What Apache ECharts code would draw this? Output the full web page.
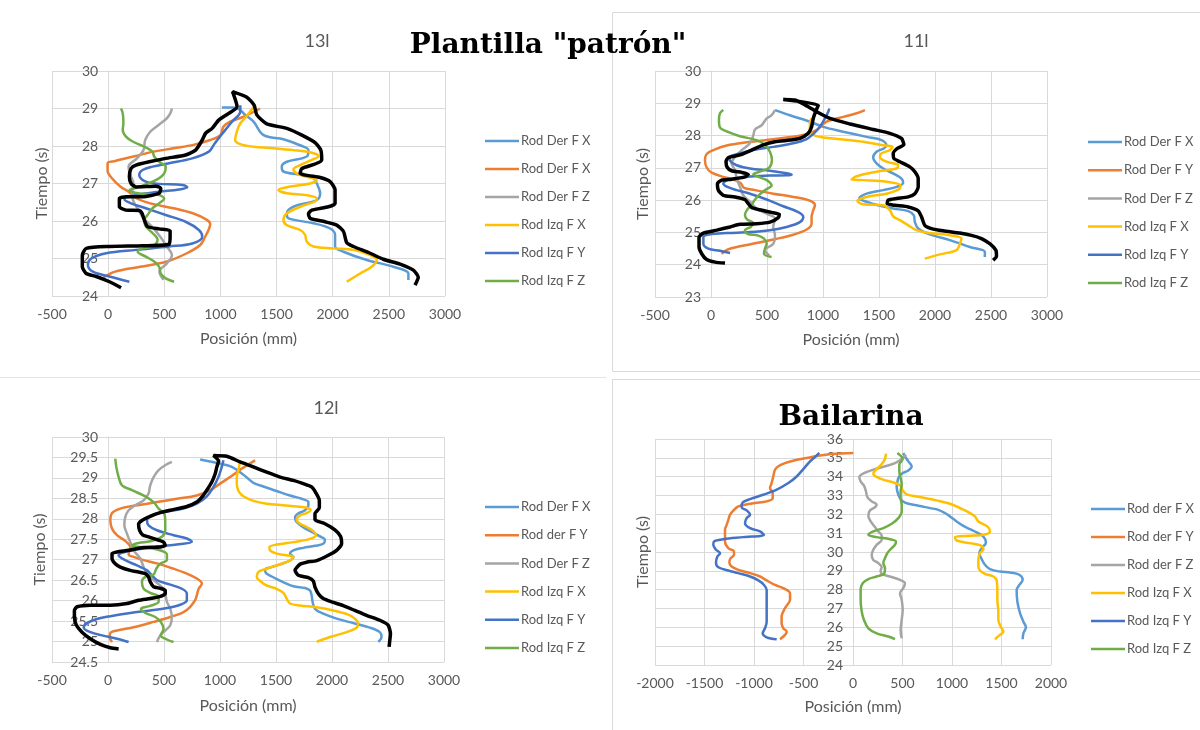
<!DOCTYPE html>
<html>
<head>
<meta charset="utf-8">
<script src="https://cdn.jsdelivr.net/npm/echarts@6/dist/echarts.min.js"></script>
<style>
  html, body { margin: 0; padding: 0; background: #ffffff; }
  #chart { width: 1200px; height: 730px; }
</style>
</head>
<body>
<div id="chart"></div>
<script>
// ---------- Series colours (legend order) ----------
const seriesColors = ['#5B9BD5', '#ED7D31', '#A5A5A5', '#FFC000', '#4472C4', '#70AD47'];

// ---------- Legend labels per panel ----------
const legend13 = ['Rod Der F X', 'Rod Der F X', 'Rod Der F Z', 'Rod Izq F X', 'Rod Izq F Y', 'Rod Izq F Z'];
const legend11 = ['Rod Der F X', 'Rod Der F Y', 'Rod Der F Z', 'Rod Izq F X', 'Rod Izq F Y', 'Rod Izq F Z'];
const legend12 = ['Rod Der F X', 'Rod der F Y', 'Rod Der F Z', 'Rod Izq F X', 'Rod Izq F Y', 'Rod Izq F Z'];
const legendBa = ['Rod der F X', 'Rod der F Y', 'Rod der F Z', 'Rod Izq F X', 'Rod Izq F Y', 'Rod Izq F Z'];

// ---------- Panel titles ----------
const panelTitles = ['13l', '11l', '12l', ''];

// ---------- Panel 13l : [posición mm, tiempo s] ----------
const p13DerX = [[2674,24.43],[2674,24.60],[2540,24.78],[2303,24.96],[2096,25.18],[2021,25.32],[2021,25.63],[1977,25.80],[1829,25.94],[1606,26.07],[1591,26.20],[1650,26.38],[1858,26.56],[1888,26.74],[1858,27.00],[1828,27.14],[1710,27.23],[1561,27.32],[1546,27.45],[1591,27.58],[1769,27.72],[1784,27.89],[1725,28.00],[1561,28.18],[1384,28.29],[1295,28.65],[1221,28.83],[1176,28.96],[1117,29.03],[1013,29.03]];
const p13DerY = [[-40,24.50],[63,24.65],[286,24.78],[523,24.92],[701,25.14],[820,25.36],[864,25.58],[894,25.76],[909,25.92],[879,26.03],[760,26.20],[583,26.34],[375,26.47],[256,26.60],[182,26.78],[108,26.92],[34,27.14],[-5,27.34],[-5,27.54],[63,27.60],[226,27.72],[405,27.85],[583,27.94],[760,28.03],[909,28.16],[998,28.29],[1028,28.52],[1087,28.65],[1206,28.78],[1353,29.00]];
const p13DerZ = [[493,24.43],[457,24.65],[523,24.87],[568,25.09],[523,25.32],[464,25.58],[390,25.85],[315,26.07],[271,26.29],[226,26.52],[212,26.74],[226,27.00],[197,27.23],[182,27.45],[256,27.67],[315,27.89],[330,28.16],[375,28.38],[449,28.56],[523,28.74],[553,28.87],[568,29.00]];
const p13IzqX = [[2125,24.38],[2244,24.60],[2347,24.78],[2392,24.96],[2333,25.09],[2184,25.23],[2006,25.27],[1828,25.32],[1769,25.45],[1754,25.63],[1710,25.76],[1591,25.89],[1561,26.03],[1591,26.20],[1710,26.38],[1843,26.52],[1858,26.60],[1769,26.69],[1591,26.74],[1517,26.83],[1621,26.92],[1799,27.00],[1858,27.09],[1769,27.18],[1680,27.27],[1650,27.38],[1710,27.49],[1814,27.63],[1873,27.73],[1814,27.82],[1650,27.89],[1473,27.94],[1295,27.98],[1176,28.05],[1131,28.16],[1146,28.38],[1176,28.60],[1229,28.78],[1265,28.92],[1295,29.03]];
const p13IzqY = [[189,24.38],[12,24.52],[-136,24.65],[-180,24.83],[-150,25.00],[-18,25.14],[248,25.23],[543,25.32],[749,25.40],[838,25.58],[808,25.76],[690,25.98],[513,26.16],[336,26.34],[204,26.47],[145,26.58],[248,26.69],[454,26.78],[631,26.84],[705,26.90],[661,26.96],[454,26.99],[336,27.05],[277,27.23],[307,27.36],[395,27.45],[543,27.54],[749,27.67],[897,27.85],[941,28.03],[985,28.21],[1044,28.43],[1103,28.65],[1177,28.92],[1177,29.09]];
const p13IzqZ = [[587,24.38],[513,24.47],[469,24.60],[454,24.78],[410,24.92],[336,25.05],[263,25.18],[307,25.27],[395,25.32],[440,25.50],[395,25.68],[336,25.85],[322,26.03],[351,26.16],[395,26.34],[454,26.47],[499,26.60],[454,26.69],[263,26.74],[189,26.82],[277,26.91],[395,27.05],[454,27.14],[499,27.27],[513,27.45],[454,27.58],[410,27.72],[395,27.85],[322,27.98],[218,28.12],[159,28.25],[130,28.43],[136,28.61],[130,28.87],[115,29.00]];
const p13Trace = [[115,24.22],[12,24.38],[-106,24.52],[-195,24.60],[-230,24.78],[-230,25.09],[-195,25.27],[12,25.32],[307,25.34],[543,25.38],[552,25.58],[552,25.74],[454,25.79],[351,25.85],[322,26.03],[301,26.21],[277,26.28],[159,26.29],[100,26.38],[100,26.60],[159,26.65],[307,26.65],[454,26.74],[469,26.87],[425,26.93],[248,26.91],[204,27.00],[189,27.18],[204,27.40],[248,27.49],[366,27.58],[513,27.67],[690,27.76],[779,27.89],[838,28.16],[868,28.34],[926,28.47],[985,28.69],[1074,28.87],[1148,29.05],[1108,29.45],[1235,29.30],[1300,29.09],[1324,28.83],[1413,28.59],[1591,28.47],[1725,28.29],[1843,28.09],[1894,27.89],[1902,27.63],[1843,27.52],[1725,27.40],[1710,27.27],[1784,27.21],[1888,27.16],[1977,27.05],[2021,26.83],[2021,26.47],[1962,26.38],[1814,26.29],[1784,26.19],[1799,26.07],[1932,25.98],[2036,25.89],[2096,25.72],[2125,25.42],[2184,25.32],[2333,25.14],[2451,24.98],[2600,24.85],[2718,24.69],[2762,24.50],[2733,24.29]];

// ---------- Panel 11l ----------
const p11DerX = [[2445,24.24],[2445,24.40],[2311,24.55],[2132,24.76],[1954,24.94],[1850,25.12],[1820,25.33],[1811,25.53],[1761,25.66],[1627,25.74],[1493,25.84],[1389,25.95],[1323,26.05],[1389,26.20],[1538,26.31],[1657,26.41],[1716,26.54],[1701,26.67],[1642,26.80],[1538,26.98],[1478,27.14],[1448,27.32],[1478,27.50],[1543,27.60],[1567,27.70],[1523,27.86],[1389,27.96],[1181,28.12],[1002,28.27],[883,28.43],[705,28.63],[571,28.79]];
const p11DerY = [[95,24.34],[146,24.47],[259,24.57],[407,24.67],[556,24.78],[735,24.93],[854,25.09],[898,25.27],[898,25.48],[913,25.69],[928,25.84],[883,25.98],[735,26.10],[556,26.20],[393,26.31],[291,26.39],[268,26.52],[202,26.64],[110,26.72],[6,26.85],[-39,27.01],[-54,27.24],[-39,27.43],[21,27.55],[140,27.69],[318,27.79],[497,27.86],[675,27.94],[824,28.02],[943,28.17],[1032,28.43],[1181,28.58],[1300,28.69],[1374,28.79]];
const p11DerZ = [[520,24.29],[482,24.45],[556,24.65],[571,24.91],[556,25.17],[571,25.43],[497,25.58],[407,25.74],[348,25.95],[288,26.15],[259,26.41],[229,26.67],[214,26.93],[184,27.14],[214,27.34],[274,27.55],[348,27.76],[378,28.01],[393,28.19],[452,28.32],[497,28.53],[541,28.63],[571,28.79]];
const p11IzqX = [[1909,24.19],[2043,24.32],[2192,24.45],[2222,24.65],[2236,24.81],[2132,24.91],[1954,24.98],[1835,25.07],[1761,25.22],[1686,25.38],[1627,25.50],[1597,25.69],[1538,25.84],[1359,25.87],[1306,25.98],[1389,26.10],[1567,26.20],[1686,26.36],[1692,26.46],[1567,26.57],[1359,26.62],[1255,26.64],[1300,26.74],[1478,26.88],[1657,26.98],[1671,27.08],[1567,27.19],[1508,27.34],[1523,27.45],[1597,27.55],[1621,27.65],[1538,27.70],[1359,27.81],[1181,27.88],[1002,27.94],[919,28.01],[883,28.17],[883,28.38],[898,28.53]];
const p11IzqY = [[170,24.36],[80,24.43],[-24,24.50],[-68,24.65],[-68,24.86],[-9,24.94],[140,24.98],[348,25.01],[526,25.07],[675,25.17],[794,25.32],[824,25.48],[779,25.63],[645,25.81],[497,26.02],[348,26.20],[229,26.31],[146,26.41],[110,26.51],[146,26.62],[318,26.72],[526,26.76],[675,26.77],[720,26.79],[675,26.83],[526,26.91],[348,26.98],[229,27.08],[170,27.22],[164,27.34],[229,27.42],[378,27.55],[556,27.65],[735,27.76],[854,27.89],[919,28.07],[972,28.27],[1017,28.53],[1047,28.74],[1056,28.84]];
const p11IzqZ = [[541,24.24],[473,24.34],[482,24.50],[497,24.65],[473,24.81],[422,24.90],[324,24.96],[303,25.07],[354,25.17],[378,25.29],[324,25.40],[303,25.55],[324,25.71],[363,25.86],[393,26.02],[443,26.20],[491,26.33],[541,26.45],[497,26.62],[422,26.72],[378,26.80],[443,26.89],[520,27.01],[544,27.24],[526,27.50],[482,27.71],[407,27.86],[259,27.98],[146,28.12],[80,28.25],[71,28.48],[80,28.69],[110,28.79]];
const p11Trace = [[125,24.05],[36,24.08],[-39,24.16],[-83,24.34],[-107,24.55],[-107,24.84],[-68,24.98],[51,25.07],[170,25.17],[259,25.25],[407,25.27],[526,25.32],[601,25.46],[610,25.56],[541,25.62],[422,25.71],[363,25.77],[333,25.89],[303,26.02],[214,26.10],[110,26.15],[65,26.31],[57,26.51],[95,26.62],[184,26.65],[303,26.72],[333,26.80],[274,26.86],[184,26.91],[146,27.01],[134,27.19],[155,27.32],[259,27.40],[363,27.55],[467,27.71],[571,27.81],[705,27.86],[794,27.91],[868,28.07],[898,28.27],[913,28.53],[937,28.77],[958,28.94],[645,29.12],[749,29.10],[824,28.98],[943,28.74],[1062,28.53],[1240,28.36],[1448,28.19],[1597,28.07],[1701,27.91],[1722,27.72],[1662,27.60],[1627,27.45],[1633,27.29],[1686,27.19],[1775,27.03],[1820,26.88],[1850,26.67],[1850,26.41],[1820,26.20],[1761,26.10],[1657,26.05],[1582,26.00],[1573,25.89],[1642,25.84],[1761,25.79],[1850,25.67],[1880,25.48],[1909,25.22],[1969,25.12],[2073,25.05],[2222,24.98],[2326,24.91],[2415,24.81],[2489,24.65],[2543,24.45],[2549,24.26],[2519,24.14]];

// ---------- Panel 12l ----------
const p12DerX = [[2413,24.99],[2442,25.11],[2427,25.23],[2338,25.34],[2190,25.45],[2041,25.56],[1922,25.68],[1848,25.80],[1827,25.97],[1818,26.13],[1803,26.25],[1759,26.31],[1655,26.35],[1581,26.43],[1521,26.51],[1462,26.59],[1411,26.67],[1402,26.76],[1462,26.82],[1551,26.90],[1625,26.98],[1655,27.07],[1625,27.15],[1655,27.23],[1744,27.29],[1848,27.34],[1922,27.39],[1937,27.49],[1893,27.57],[1818,27.68],[1729,27.82],[1679,27.94],[1670,28.04],[1699,28.13],[1759,28.21],[1789,28.33],[1789,28.41],[1729,28.49],[1625,28.57],[1506,28.68],[1387,28.79],[1298,28.88],[1239,29.01],[1180,29.14],[1105,29.27],[1001,29.35],[912,29.40],[823,29.45]];
const p12DerY = [[36,24.99],[15,25.11],[21,25.21],[80,25.27],[229,25.35],[407,25.48],[556,25.60],[674,25.72],[734,25.85],[778,26.01],[793,26.13],[808,26.28],[838,26.42],[793,26.54],[704,26.66],[585,26.78],[437,26.91],[318,26.99],[229,27.07],[184,27.13],[199,27.30],[154,27.46],[80,27.60],[36,27.76],[21,27.96],[36,28.14],[110,28.25],[258,28.33],[437,28.41],[615,28.49],[793,28.57],[912,28.70],[1001,28.86],[1090,29.02],[1179,29.20],[1313,29.43]];
const p12DerZ = [[437,24.99],[466,25.15],[511,25.27],[556,25.40],[570,25.60],[556,25.80],[526,25.97],[511,26.17],[481,26.33],[407,26.50],[348,26.66],[318,26.82],[288,27.03],[229,27.23],[199,27.43],[169,27.64],[146,27.84],[154,28.04],[184,28.21],[244,28.33],[318,28.45],[362,28.62],[377,28.82],[407,29.02],[452,29.19],[511,29.31],[570,29.39]];
const p12IzqX = [[1863,24.99],[1982,25.11],[2130,25.23],[2219,25.34],[2234,25.45],[2204,25.56],[2145,25.66],[2011,25.76],[1863,25.84],[1714,25.88],[1625,25.93],[1595,26.05],[1566,26.19],[1506,26.29],[1417,26.37],[1358,26.48],[1328,26.58],[1343,26.70],[1417,26.78],[1536,26.89],[1625,26.98],[1655,27.07],[1595,27.11],[1506,27.15],[1447,27.23],[1441,27.31],[1506,27.37],[1655,27.43],[1803,27.51],[1857,27.60],[1833,27.70],[1774,27.80],[1714,27.88],[1685,27.98],[1714,28.08],[1774,28.14],[1809,28.21],[1774,28.27],[1685,28.30],[1566,28.33],[1417,28.37],[1298,28.44],[1209,28.55],[1165,28.68],[1150,28.86],[1150,29.02],[1165,29.20],[1180,29.43]];
const p12IzqY = [[184,24.99],[80,25.07],[-53,25.15],[-157,25.23],[-217,25.34],[-187,25.45],[-113,25.54],[21,25.62],[199,25.70],[377,25.76],[526,25.82],[645,25.90],[704,26.01],[704,26.17],[660,26.29],[556,26.39],[437,26.50],[392,26.62],[348,26.74],[258,26.86],[154,26.99],[95,27.11],[125,27.17],[214,27.23],[333,27.28],[467,27.33],[615,27.37],[749,27.44],[704,27.52],[585,27.60],[437,27.72],[362,27.84],[348,27.97],[392,28.09],[511,28.17],[674,28.25],[793,28.37],[882,28.55],[942,28.78],[986,29.02],[1016,29.27],[1031,29.43]];
const p12IzqZ = [[585,24.99],[526,25.05],[472,25.15],[496,25.31],[472,25.48],[422,25.60],[333,25.70],[294,25.80],[377,25.87],[452,25.97],[452,26.09],[377,26.19],[318,26.29],[303,26.46],[333,26.58],[407,26.64],[431,26.78],[466,26.90],[526,27.00],[526,27.13],[437,27.25],[288,27.31],[214,27.35],[273,27.41],[377,27.45],[481,27.56],[511,27.72],[511,27.92],[505,28.11],[452,28.25],[407,28.41],[333,28.55],[214,28.70],[125,28.82],[95,29.02],[74,29.27],[65,29.47]];
const p12Trace = [[95,24.82],[21,24.85],[-68,24.93],[-158,25.07],[-232,25.23],[-282,25.40],[-300,25.60],[-300,25.76],[-276,25.85],[-158,25.89],[21,25.89],[169,25.93],[273,26.01],[377,26.05],[452,26.09],[511,26.17],[511,26.25],[467,26.30],[407,26.34],[377,26.46],[362,26.58],[333,26.66],[273,26.70],[199,26.74],[110,26.82],[65,26.90],[36,27.03],[36,27.15],[80,27.19],[184,27.23],[318,27.30],[467,27.31],[511,27.35],[496,27.43],[437,27.49],[362,27.56],[312,27.60],[282,27.72],[273,27.87],[303,27.96],[377,28.06],[452,28.14],[556,28.21],[704,28.30],[793,28.41],[838,28.53],[882,28.70],[927,28.90],[957,29.10],[972,29.27],[987,29.41],[942,29.55],[1061,29.53],[1179,29.39],[1298,29.27],[1417,29.14],[1536,29.02],[1655,28.94],[1744,28.86],[1818,28.78],[1857,28.63],[1887,28.45],[1887,28.27],[1848,28.13],[1848,27.98],[1937,27.88],[2026,27.73],[2077,27.57],[2086,27.39],[2041,27.23],[1967,27.11],[1863,26.98],[1774,26.94],[1714,26.89],[1670,26.74],[1699,26.62],[1789,26.56],[1833,26.48],[1848,26.33],[1878,26.17],[1922,26.05],[1997,25.97],[2100,25.88],[2204,25.76],[2308,25.64],[2427,25.52],[2501,25.40],[2522,25.19],[2516,25.03],[2510,24.87]];

// ---------- Panel Bailarina ----------
const pBaDerX = [[1714,25.37],[1721,25.68],[1747,26.00],[1721,26.30],[1687,26.75],[1660,27.37],[1653,27.99],[1680,28.25],[1714,28.52],[1680,28.79],[1586,28.91],[1485,28.96],[1384,29.09],[1333,29.32],[1300,29.62],[1276,29.94],[1300,30.20],[1343,30.51],[1317,30.82],[1249,31.04],[1182,31.21],[1114,31.39],[1047,31.62],[980,31.89],[929,32.07],[862,32.24],[778,32.33],[660,32.46],[559,32.56],[502,32.69],[468,32.92],[448,33.22],[441,33.48],[448,33.70],[458,33.93],[492,34.16],[559,34.33],[593,34.55],[559,34.81],[525,35.08],[508,35.26]];
const pBaDerY = [[-737,25.37],[-687,25.60],[-670,25.77],[-704,25.95],[-721,26.22],[-721,26.57],[-704,26.84],[-677,27.10],[-636,27.46],[-636,27.81],[-704,28.08],[-788,28.25],[-872,28.49],[-939,28.70],[-1040,28.88],[-1158,29.05],[-1226,29.23],[-1249,29.44],[-1236,29.67],[-1202,29.85],[-1202,30.03],[-1259,30.20],[-1293,30.56],[-1293,30.91],[-1293,31.18],[-1276,31.44],[-1259,31.71],[-1242,31.98],[-1202,32.24],[-1158,32.42],[-1091,32.51],[-990,32.60],[-872,32.69],[-811,32.86],[-811,33.13],[-838,33.39],[-822,33.66],[-805,34.01],[-788,34.37],[-754,34.55],[-687,34.72],[-586,34.87],[-468,34.99],[-350,35.11],[-215,35.20],[3,35.26]];
const pBaDerZ = [[492,25.42],[481,25.86],[492,26.39],[502,26.93],[492,27.46],[475,27.81],[508,28.08],[525,28.34],[475,28.52],[374,28.70],[290,28.84],[279,29.02],[290,29.19],[256,29.41],[205,29.58],[189,29.85],[205,30.12],[239,30.38],[290,30.65],[290,30.86],[256,31.09],[212,31.39],[172,31.68],[155,31.92],[172,32.21],[222,32.38],[239,32.51],[189,32.69],[145,32.92],[131,33.22],[111,33.52],[77,33.75],[64,33.98],[111,34.19],[205,34.37],[323,34.55],[424,34.72],[492,34.94],[535,35.17]];
const pBaIzqX = [[1434,25.37],[1485,25.60],[1519,25.77],[1492,26.04],[1468,26.39],[1468,26.84],[1458,27.46],[1458,27.99],[1451,28.49],[1418,28.70],[1333,28.84],[1283,29.02],[1266,29.26],[1266,29.58],[1283,29.94],[1317,30.15],[1283,30.36],[1182,30.47],[1047,30.61],[1030,30.79],[1182,30.86],[1317,30.91],[1384,31.09],[1357,31.36],[1266,31.62],[1232,31.89],[1165,32.12],[1088,32.31],[980,32.56],[845,32.74],[677,32.92],[542,33.06],[502,33.27],[481,33.52],[407,33.70],[290,33.87],[205,34.16],[239,34.40],[290,34.67],[323,34.94],[333,35.22]];
const pBaIzqY = [[-771,25.37],[-872,25.47],[-912,25.68],[-889,25.95],[-872,26.30],[-872,26.75],[-872,27.19],[-872,27.63],[-872,27.99],[-899,28.25],[-956,28.49],[-1040,28.70],[-1158,28.88],[-1259,29.02],[-1360,29.19],[-1384,29.44],[-1370,29.76],[-1343,29.94],[-1384,30.12],[-1411,30.38],[-1404,30.56],[-1310,30.68],[-1108,30.79],[-899,30.91],[-939,31.09],[-1040,31.27],[-1091,31.53],[-1074,31.80],[-1040,31.98],[-1074,32.21],[-1125,32.38],[-1114,32.63],[-1040,32.81],[-906,33.04],[-771,33.31],[-653,33.66],[-569,34.01],[-502,34.40],[-434,34.81],[-384,35.04],[-340,35.26]];
const pBaIzqZ = [[424,25.37],[357,25.51],[239,25.68],[155,25.95],[111,26.39],[88,26.84],[77,27.46],[77,27.99],[98,28.34],[155,28.56],[239,28.70],[313,28.84],[323,29.14],[306,29.41],[323,29.67],[347,29.94],[374,30.12],[424,30.38],[434,30.56],[374,30.68],[239,30.79],[155,30.91],[205,31.09],[306,31.27],[391,31.50],[458,31.80],[492,32.15],[492,32.51],[481,32.86],[481,33.22],[492,33.57],[481,33.93],[468,34.28],[468,34.64],[502,34.94],[481,35.11],[448,35.26]];

// ---------- Layout of the four panels ----------
const panels = [
  { grid: { left: 52, top: 71, width: 393, height: 225 }, x: [-500, 3000, 500], y: [24, 30, 1],
    yNameGap: 58, xNameGap: 35, legend: [485, 141, 28], titlePos: [312, 27],
    names: legend13, lines: [p13DerX, p13DerY, p13DerZ, p13IzqX, p13IzqY, p13IzqZ], trace: p13Trace },
  { grid: { left: 655, top: 71, width: 392, height: 226 }, x: [-500, 3000, 500], y: [23, 30, 1],
    yNameGap: 60, xNameGap: 35, legend: [1088, 142, 28.2], titlePos: [911, 27],
    names: legend11, lines: [p11DerX, p11DerY, p11DerZ, p11IzqX, p11IzqY, p11IzqZ], trace: p11Trace },
  { grid: { left: 52, top: 437, width: 392, height: 225 }, x: [-500, 3000, 500], y: [24.5, 30, 0.5],
    yNameGap: 60, xNameGap: 36, legend: [485, 507, 28.2], titlePos: [321, 394],
    names: legend12, lines: [p12DerX, p12DerY, p12DerZ, p12IzqX, p12IzqY, p12IzqZ], trace: p12Trace },
  { grid: { left: 655, top: 439, width: 396, height: 226 }, x: [-2000, 2000, 500], y: [24, 36, 1],
    yNameGap: 202, xNameGap: 34, legend: [1091, 509, 28],
    names: legendBa, lines: [pBaDerX, pBaDerY, pBaDerZ, pBaIzqX, pBaIzqY, pBaIzqZ], trace: null }
];

const TEXT_GRAY = '#595959';
const GRID_GRAY = '#d9d9d9';
const FONT = 'Lato, "Open Sans", sans-serif';
const SERIF = '"DejaVu Serif", "Liberation Serif", serif';
const plainNumber = v => String(v);

const grids = [], xAxes = [], yAxes = [], series = [], graphics = [];
const titles = [
  { text: 'Plantilla "patrón"', left: 543, top: 27, textAlign: 'center',
    textStyle: { fontFamily: SERIF, fontWeight: 'bold', fontSize: 28, color: '#000' } },
  { text: 'Bailarina', left: 846, top: 399, textAlign: 'center',
    textStyle: { fontFamily: SERIF, fontWeight: 'bold', fontSize: 28, color: '#000' } }
];

panels.forEach((p, i) => {
  grids.push(Object.assign({ containLabel: false }, p.grid));
  xAxes.push({
    gridIndex: i, type: 'value', min: p.x[0], max: p.x[1], interval: p.x[2],
    axisLine: { show: false, onZero: false }, axisTick: { show: false },
    axisLabel: { color: TEXT_GRAY, fontSize: 14, fontFamily: FONT, margin: 11, formatter: plainNumber },
    splitLine: { show: true, lineStyle: { color: GRID_GRAY, width: 1 } },
    name: 'Posición (mm)', nameLocation: 'middle', nameGap: p.xNameGap,
    nameTextStyle: { color: TEXT_GRAY, fontSize: 16, fontFamily: FONT }
  });
  // vertical axis crosses the horizontal one where position = 0
  const zeroShift = p.grid.width * (0 - p.x[0]) / (p.x[1] - p.x[0]);
  yAxes.push({
    gridIndex: i, type: 'value', min: p.y[0], max: p.y[1], interval: p.y[2],
    offset: -zeroShift,
    axisLine: { show: true, onZero: false, lineStyle: { color: GRID_GRAY, width: 1 } },
    axisTick: { show: false },
    axisLabel: { color: TEXT_GRAY, fontSize: 14, fontFamily: FONT, margin: 10, formatter: plainNumber },
    splitLine: { show: true, lineStyle: { color: GRID_GRAY, width: 1 } },
    name: 'Tiempo (s)', nameLocation: 'middle', nameGap: p.yNameGap,
    nameTextStyle: { color: TEXT_GRAY, fontSize: 16, fontFamily: FONT }
  });
  p.lines.forEach((data, k) => {
    series.push({
      type: 'line', name: p.names[k], xAxisIndex: i, yAxisIndex: i, data: data,
      showSymbol: false, smooth: 0.35, silent: true,
      lineStyle: { color: seriesColors[k], width: 2.5 }, z: 2 + k * 0.01
    });
  });
  if (p.trace) {
    series.push({
      type: 'line', xAxisIndex: i, yAxisIndex: i, data: p.trace,
      showSymbol: false, smooth: 0.2, silent: true,
      lineStyle: { color: '#000000', width: 3.5 }, z: 3
    });
  }
  if (panelTitles[i]) {
    titles.push({ text: panelTitles[i], left: p.titlePos[0], top: p.titlePos[1], textAlign: 'center',
      textStyle: { color: TEXT_GRAY, fontSize: 18, fontWeight: 'normal', fontFamily: FONT } });
  }
  // legend drawn as swatch + label rows
  const [lx, ly, step] = p.legend;
  p.names.forEach((label, k) => {
    const y = ly + step * k;
    graphics.push({ type: 'line', silent: true,
      shape: { x1: lx, y1: y, x2: lx + 34, y2: y },
      style: { stroke: seriesColors[k], lineWidth: 2.5 } });
    graphics.push({ type: 'text', silent: true, x: lx + 36, y: y,
      style: { text: label, fill: TEXT_GRAY, font: '13px ' + FONT, textVerticalAlign: 'middle', textAlign: 'left' } });
  });
});

// panel frames
graphics.push({ type: 'rect', silent: true, z: -1, shape: { x: 612.5, y: 12.5, width: 600, height: 359 },
  style: { fill: 'none', stroke: '#d9d9d9', lineWidth: 1 } });
graphics.push({ type: 'line', silent: true, z: -1, shape: { x1: 0, y1: 377.5, x2: 606, y2: 377.5 },
  style: { stroke: '#e3e3e3', lineWidth: 1 } });
graphics.push({ type: 'rect', silent: true, z: -1, shape: { x: 612.5, y: 379.5, width: 600, height: 360 },
  style: { fill: 'none', stroke: '#d9d9d9', lineWidth: 1 } });

const chart = echarts.init(document.getElementById('chart'), null, { renderer: 'canvas' });
chart.setOption({
  backgroundColor: '#ffffff',
  animation: false,
  title: titles,
  grid: grids,
  xAxis: xAxes,
  yAxis: yAxes,
  series: series,
  graphic: graphics
});
</script>
</body>
</html>
